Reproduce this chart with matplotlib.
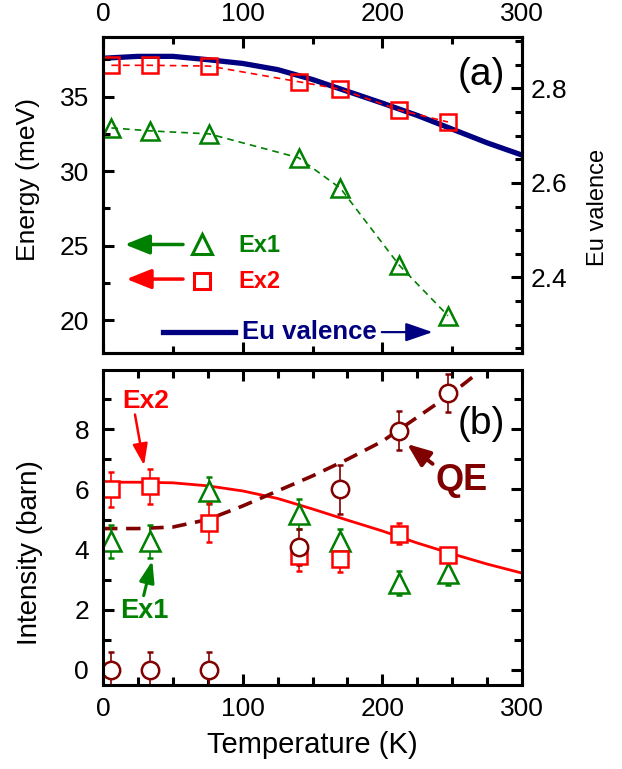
import matplotlib
matplotlib.use('Agg')
import matplotlib.pyplot as plt
from matplotlib.ticker import MultipleLocator

FONT = ['Liberation Sans', 'DejaVu Sans']
plt.rcParams['font.family'] = FONT

RED = '#ff0000'
GREEN = '#008000'
NAVY = '#000080'
DRED = '#800000'

# ---------------- panel (a) data ----------------
T_a = [6, 34, 76, 140, 170, 212, 247]
ex1_E = [32.9, 32.7, 32.5, 30.9, 28.85, 23.7, 20.3]
ex2_E = [37.1, 37.1, 37.05, 36.0, 35.5, 34.1, 33.3]
T_val = [0, 25, 50, 75, 100, 125, 150, 175, 200, 225, 250, 275, 300]
valence = [2.864, 2.868, 2.868, 2.861, 2.853, 2.840, 2.819, 2.794, 2.769,
           2.743, 2.714, 2.685, 2.659]

# ---------------- panel (b) data ----------------
T_b = [6, 34, 76, 140, 170, 212, 247]
ex1_I = [4.27, 4.27, 5.95, 5.19, 4.27, 2.89, 3.22]
ex1_err = [0.55, 0.55, 0.45, 0.5, 0.4, 0.4, 0.4]
ex2_I = [6.0, 6.1, 4.89, 3.8, 3.69, 4.52, 3.82]
ex2_err = [0.57, 0.57, 0.65, 0.5, 0.43, 0.35, 0.2]
qe_I = [0, 0, 0, 4.08, 6.0, 7.95, 9.22]
qe_err = [0.6, 0.6, 0.6, 0.6, 0.8, 0.65, 0.63]
T_fit = [0, 25, 50, 75, 100, 125, 150, 175, 200, 225, 250, 275, 300]
ex2_fit = [6.24, 6.24, 6.22, 6.12, 5.95, 5.70, 5.35, 4.98, 4.62, 4.22, 3.86,
           3.52, 3.22]
T_qe = [0, 25, 50, 75, 100, 125, 150, 175, 200, 225, 250, 265]
qe_fit = [4.7, 4.7, 4.75, 5.0, 5.45, 5.95, 6.45, 7.0, 7.6, 8.4, 9.2, 9.75]

W, H = 622, 769
fig = plt.figure(figsize=(W / 100, H / 100), dpi=100)
L, R = 103, 522
ax1 = fig.add_axes([L / W, 1 - 353 / H, (R - L) / W, (353 - 37) / H])
ax2 = fig.add_axes([L / W, 1 - 685 / H, (R - L) / W, (685 - 370) / H])
ax1r = ax1.twinx()
ax1.set_zorder(ax1r.get_zorder() + 1)
ax1.patch.set_visible(False)

TICK_FS = 19
SPW = 2.2

for ax in (ax1, ax2, ax1r):
    for s in ax.spines.values():
        s.set_linewidth(SPW)

# ---------- panel (a) ----------
ax1r.plot(T_val, valence, color=NAVY, lw=3.8, solid_capstyle='butt')
ax1.plot(T_a, ex2_E, color=RED, lw=1.2, ls=(0, (4, 3)))
ax1.plot(T_a, ex1_E, color=GREEN, lw=1.2, ls=(0, (4, 3)))
ax1.plot(T_a, ex2_E, ls='none', marker='s', ms=11, mfc='none', mec=RED, mew=1.8)
ax1.plot(T_a, ex1_E, ls='none', marker='^', ms=13.5, mfc='none', mec=GREEN, mew=1.8)

ax1.set_xlim(0, 300)
ax1.set_ylim(17.8, 39.0)
ax1r.set_ylim(2.24, 2.909)

ax1.xaxis.set_major_locator(MultipleLocator(100))
ax1.xaxis.set_minor_locator(MultipleLocator(50))
ax1.yaxis.set_major_locator(MultipleLocator(5))
ax1.yaxis.set_minor_locator(MultipleLocator(2.5))
ax1r.yaxis.set_major_locator(MultipleLocator(0.2))
ax1r.yaxis.set_minor_locator(MultipleLocator(0.05))
ax1r.set_yticks([2.4, 2.6, 2.8])

ax1.tick_params(axis='x', which='both', direction='in', top=True, bottom=True,
                labeltop=True, labelbottom=False, labelsize=TICK_FS, pad=8, width=SPW)
ax1.tick_params(axis='y', which='both', direction='in', left=True, right=False,
                labelsize=TICK_FS, pad=10, width=SPW)
ax1r.tick_params(axis='y', which='both', direction='in', left=False, right=True,
                 labelsize=TICK_FS, pad=6.5, width=SPW)
for a in (ax1, ax1r):
    a.tick_params(which='major', length=8)
    a.tick_params(which='minor', length=5)

ax1.set_ylabel('Energy (meV)', fontsize=19)
ax1.yaxis.label.set_va('center')
ax1.yaxis.set_label_coords(-0.179, 0.55)
ax1r.set_ylabel('Eu valence', fontsize=17, rotation=90)
ax1r.yaxis.label.set_va('center')
ax1r.yaxis.set_label_coords(1.181, 0.46)

ax1.text(270.6, 36.46, '(a)', fontsize=28, ha='center', va='center')

# legend-like annotations in (a)
arr_kw = dict(arrowstyle='-|>,head_length=1.0,head_width=0.4', mutation_scale=15,
              shrinkA=0, shrinkB=0)
ax1.annotate('', xy=(15.6, 25.08), xytext=(57.3, 25.08),
             arrowprops=dict(color=GREEN, lw=2.5, **arr_kw))
ax1.plot([70.9], [25.1], marker='^', ms=14, mfc='none', mec=GREEN, mew=2.2)
ax1.text(96.7, 25.0, 'Ex1', color=GREEN, fontsize=17, fontweight='bold',
         ha='left', va='center')
ax1.annotate('', xy=(16.8, 22.76), xytext=(57.3, 22.76),
             arrowprops=dict(color=RED, lw=2.5, **arr_kw))
ax1.plot([70.9], [22.6], marker='s', ms=11, mfc='none', mec=RED, mew=2.2)
ax1.text(96.7, 22.6, 'Ex2', color=RED, fontsize=17, fontweight='bold',
         ha='left', va='center')
ax1.plot([43, 94.5], [19.2, 19.2], color=NAVY, lw=3.8)
ax1.text(99.3, 19.2, 'Eu valence', color=NAVY, fontsize=18.5, fontweight='bold',
         ha='left', va='center')
ax1.annotate('', xy=(236, 19.2), xytext=(199.6, 19.2),
             arrowprops=dict(color=NAVY, lw=1.6,
                             arrowstyle='-|>,head_length=1.1,head_width=0.38',
                             mutation_scale=15, shrinkA=0, shrinkB=0))

# ---------- panel (b) ----------
ax2.plot(T_fit, ex2_fit, color=RED, lw=2.0)
ax2.plot(T_qe, qe_fit, color=DRED, lw=2.6, ls=(0, (4, 2.4)))
eb = dict(ls='none', capsize=2.5, elinewidth=1.2, capthick=1.2, mew=1.8, mfc='white')
ax2.errorbar(T_b, ex1_I, yerr=ex1_err, marker='^', ms=14, color=GREEN, mec=GREEN, **eb)
ax2.errorbar(T_b, ex2_I, yerr=ex2_err, marker='s', ms=11.5, color=RED, mec=RED, **eb)
ax2.errorbar(T_b, qe_I, yerr=qe_err, marker='o', ms=12.5, color=DRED, mec=DRED, **eb)

ax2.set_xlim(0, 300)
ax2.set_ylim(-0.5, 9.97)
ax2.xaxis.set_major_locator(MultipleLocator(100))
ax2.xaxis.set_minor_locator(MultipleLocator(25))
ax2.yaxis.set_major_locator(MultipleLocator(2))
ax2.yaxis.set_minor_locator(MultipleLocator(1))
ax2.tick_params(axis='x', which='both', direction='in', top=True, bottom=True,
                labelsize=TICK_FS, pad=8.5, width=SPW)
ax2.tick_params(axis='y', which='both', direction='in', left=True, right=True,
                labelsize=TICK_FS, pad=10, width=SPW)
ax2.tick_params(which='major', length=8)
ax2.tick_params(which='minor', length=6)

ax2.set_xlabel('Temperature (K)', fontsize=21)
ax2.xaxis.label.set_va('center')
ax2.xaxis.set_label_coords(0.5, -0.19)
ax2.set_ylabel('Intensity (barn)', fontsize=20)
ax2.yaxis.label.set_va('center')
ax2.yaxis.set_label_coords(-0.174, 0.42)

ax2.text(271, 8.16, '(b)', fontsize=28, ha='center', va='center')
ax2.text(30.8, 8.95, 'Ex2', color=RED, fontsize=19, fontweight='bold',
         ha='center', va='center')
ax2.annotate('', xy=(29.4, 6.8), xytext=(22.9, 8.49),
             arrowprops=dict(color=RED, lw=1.8,
                             arrowstyle='-|>,head_length=1.0,head_width=0.35',
                             mutation_scale=13, shrinkA=0, shrinkB=0))
ax2.text(29.4, 1.95, 'Ex1', color=GREEN, fontsize=19.5, fontweight='bold',
         ha='center', va='center')
ax2.annotate('', xy=(35.3, 3.63), xytext=(29.1, 2.47),
             arrowprops=dict(color=GREEN, lw=2.2,
                             arrowstyle='-|>,head_length=1.0,head_width=0.35',
                             mutation_scale=13, shrinkA=0, shrinkB=0))
ax2.text(257, 6.3, 'QE', color=DRED, fontsize=26, fontweight='bold',
         ha='center', va='center')
ax2.annotate('', xy=(217.7, 7.51), xytext=(236, 6.85),
             arrowprops=dict(color=DRED, lw=2.8,
                             arrowstyle='-|>,head_length=1.0,head_width=0.4',
                             mutation_scale=14, shrinkA=0, shrinkB=0))

fig.savefig('out.png', dpi=100)
